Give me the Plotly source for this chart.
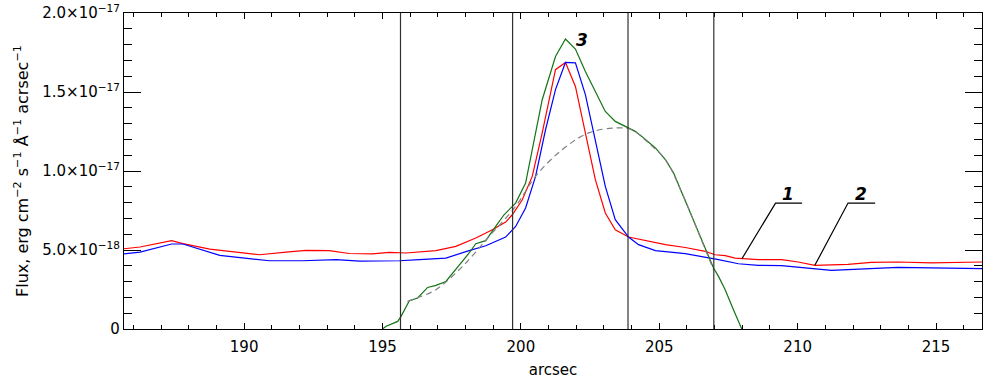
import plotly.graph_objects as go

# ---- data (flux in units of 1e-18 erg cm^-2 s^-1 A^-1 arcsec^-1) ----
SCALE = 1e-18

red_x = [185.66, 186.24, 187.38, 187.79, 188.76, 189.59, 190.56, 191.52, 192.24, 193.08,
         193.80, 194.63, 195.25, 195.85, 196.33, 196.93, 197.65, 198.37, 198.97, 199.45,
         199.69, 200.05, 200.41, 200.77, 201.25, 201.61, 201.97, 202.33, 202.69, 203.05,
         203.41, 203.89, 204.61, 205.22, 205.94, 206.66, 207.02, 207.38, 207.74, 208.58,
         209.42, 210.02, 210.62, 211.82, 212.66, 213.62, 214.82, 216.66]
red_y = [5.08, 5.19, 5.59, 5.40, 5.06, 4.91, 4.70, 4.87, 4.97, 4.96,
         4.78, 4.75, 4.85, 4.81, 4.87, 4.96, 5.23, 5.76, 6.28, 6.77,
         7.23, 8.18, 9.66, 12.41, 16.41, 16.87, 15.35, 12.41, 9.45, 7.34,
         6.28, 5.82, 5.54, 5.34, 5.16, 4.91, 4.70, 4.64, 4.49, 4.39,
         4.39, 4.24, 4.03, 4.09, 4.22, 4.24, 4.18, 4.24]

blue_x = [185.66, 186.24, 187.38, 187.79, 189.12, 190.32, 190.92, 192.11, 193.33, 194.17,
          195.61, 196.33, 197.29, 198.13, 198.73, 199.45, 199.81, 200.17, 200.53, 200.89,
          201.25, 201.61, 201.97, 202.33, 202.69, 203.05, 203.41, 203.89, 204.25, 204.86,
          205.94, 206.66, 207.14, 207.86, 208.58, 209.42, 210.62, 211.22, 212.42, 213.62,
          216.66]
blue_y = [4.75, 4.87, 5.38, 5.38, 4.66, 4.45, 4.32, 4.32, 4.39, 4.30,
          4.32, 4.39, 4.49, 4.96, 5.27, 5.82, 6.49, 7.66, 9.66, 12.61,
          15.15, 16.87, 16.84, 14.83, 11.98, 9.03, 6.92, 5.82, 5.34, 4.96,
          4.77, 4.56, 4.39, 4.13, 4.03, 4.01, 3.82, 3.71, 3.80, 3.90,
          3.82]

green_x = [195.00, 195.13, 195.55, 195.67, 195.97, 196.27, 196.63, 196.93, 197.29, 197.59,
           197.89, 198.13, 198.37, 198.73, 199.09, 199.39, 199.81, 200.17, 200.77, 201.25,
           201.61, 201.97, 202.33, 203.05, 203.41, 203.89, 204.13, 204.37, 204.86, 205.22,
           205.52, 205.82, 206.12, 206.42, 206.72, 206.96, 207.14, 207.38, 207.68, 207.98]
green_y = [0.00, 0.17, 0.48, 0.80, 1.79, 1.96, 2.63, 2.76, 3.01, 3.65,
           4.28, 4.81, 5.40, 5.59, 6.49, 7.23, 7.97, 9.24, 14.51, 17.25,
           18.35, 17.72, 16.30, 13.77, 13.14, 12.72, 12.51, 12.19, 11.46, 10.72,
           9.87, 8.61, 7.34, 6.08, 4.81, 3.86, 3.33, 2.49, 1.22, 0.00]

fit_x = [195.90, 196.30, 196.93, 197.89, 198.85, 199.81, 200.53, 201.49, 202.45, 203.41,
         204.01, 204.61, 205.22, 205.82, 206.42, 206.96]
fit_y = [1.75, 2.00, 2.49, 3.96, 5.86, 7.76, 9.66, 11.35, 12.41, 12.72,
         12.61, 11.77, 10.72, 8.61, 6.08, 3.75]

vline_x = [195.65, 199.70, 203.87, 206.97]

ytick_vals = [0, 5, 10, 15, 20]
ytick_text = ["0", "5.0×10<sup>−18</sup>", "1.0×10<sup>−17</sup>",
              "1.5×10<sup>−17</sup>", "2.0×10<sup>−17</sup>"]

labels = ["1", "2", "3"]
label_x = [209.66, 212.30, 202.21]
label_y = [8.55, 8.55, 18.3]
# leader lines: (start on curve) -> (elbow) -> (end of underline)
leaders = [
    [(207.98, 4.43), (209.20, 7.97), (210.16, 7.97)],
    [(210.62, 4.03), (211.82, 7.97), (212.80, 7.97)],
]

FONT = "DejaVu Sans"

fig = go.Figure()

def sc(v):
    return [a * SCALE for a in v]

fig.add_trace(go.Scatter(x=red_x, y=sc(red_y), mode="lines",
                         line=dict(color="#ff0000", width=1.2), showlegend=False))
fig.add_trace(go.Scatter(x=blue_x, y=sc(blue_y), mode="lines",
                         line=dict(color="#0000ff", width=1.2), showlegend=False))
fig.add_trace(go.Scatter(x=green_x, y=sc(green_y), mode="lines",
                         line=dict(color="#137313", width=1.2), showlegend=False))
fig.add_trace(go.Scatter(x=fit_x, y=sc(fit_y), mode="lines", line_shape="spline",
                         line=dict(color="#808080", width=1.2, dash="6px,4px"),
                         showlegend=False))

for xv in vline_x:
    fig.add_shape(type="line", xref="x", yref="paper", x0=xv, x1=xv, y0=0, y1=1,
                  line=dict(color="#303030", width=1.2))

for pts in leaders:
    fig.add_trace(go.Scatter(x=[p[0] for p in pts], y=sc([p[1] for p in pts]),
                             mode="lines", line=dict(color="black", width=1.2),
                             showlegend=False, hoverinfo="skip"))

for t, xv, yv in zip(labels, label_x, label_y):
    fig.add_annotation(x=xv, y=yv * SCALE, xref="x", yref="y", text="<b><i>%s</i></b>" % t,
                       showarrow=False, font=dict(family=FONT, size=17, color="black"))

fig.add_annotation(x=(21 - 124) / 858, y=0.5, xref="paper", yref="paper", textangle=-90,
                   xanchor="center", yanchor="middle",
                   text="Flux, erg cm<sup>−2</sup> s<sup>−1</sup> Å<sup>−1</sup> acrsec<sup>−1</sup>",
                   showarrow=False, font=dict(family=FONT, size=16, color="black"))

fig.update_layout(
    width=983, height=379,
    margin=dict(l=124, r=1, t=13, b=50),
    paper_bgcolor="white", plot_bgcolor="white",
    font=dict(family=FONT, size=15, color="black"),
    xaxis=dict(range=[185.66, 216.66], tickmode="linear", tick0=190, dtick=5,
               ticks="inside", ticklen=6, tickwidth=1, tickcolor="black",
               ticklabelstandoff=4,
               minor=dict(tickmode="linear", tick0=190, dtick=1, ticks="inside",
                          ticklen=4, tickcolor="black"),
               showline=True, linecolor="black", linewidth=1.2, mirror="ticks",
               showgrid=False, zeroline=False,
               title=dict(text="arcsec", font=dict(size=15), standoff=10)),
    yaxis=dict(range=[0, 2e-17], tickmode="array", tickvals=sc(ytick_vals), ticktext=ytick_text,
               ticks="inside", ticklen=17, tickwidth=1, tickcolor="black",
               minor=dict(tickmode="linear", tick0=0, dtick=1e-18, ticks="inside",
                          ticklen=8, tickcolor="black"),
               showline=True, linecolor="black", linewidth=1.2, mirror="ticks",
               showgrid=False, zeroline=False),
)

fig.write_html("out.html", config={"displayModeBar": False},
               post_script="document.body.style.margin='0';document.body.style.overflow='hidden';")
